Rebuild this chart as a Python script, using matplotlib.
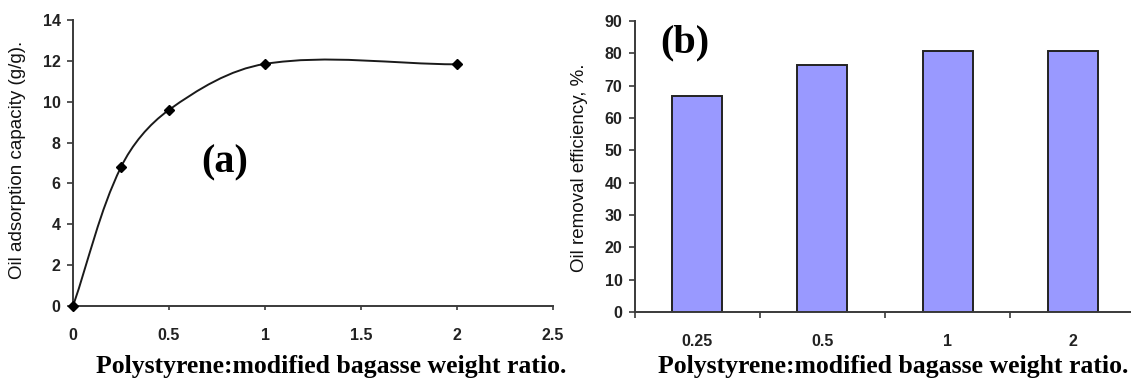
import matplotlib.pyplot as plt
import numpy as np
from matplotlib.path import Path
from matplotlib.patches import PathPatch

plt.rcParams.update({'font.family': 'Liberation Sans',
                     'figure.facecolor': 'white'})

# panel (a) data
ratio_a = [0, 0.25, 0.5, 1, 2]
capacity = [0, 6.8, 9.6, 11.85, 11.83]
xticks_a = [0, 0.5, 1, 1.5, 2, 2.5]
xticklabels_a = ['0', '0.5', '1', '1.5', '2', '2.5']
yticks_a = [0, 2, 4, 6, 8, 10, 12, 14]

# panel (b) data
ratio_b = ['0.25', '0.5', '1', '2']
efficiency = [66.9, 76.3, 80.6, 80.8]
yticks_b = [0, 10, 20, 30, 40, 50, 60, 70, 80, 90]

xlabel = 'Polystyrene:modified bagasse weight ratio.'
AX_C = '#3a3a3a'
tick_fs = 11.5
W, H = 1131, 380

fig = plt.figure(figsize=(W / 100, H / 100), dpi=100)

def px(x0, y0, x1, y1):
    # pixel box -> figure fraction [left, bottom, width, height]
    return [x0 / W, 1 - y1 / H, (x1 - x0) / W, (y1 - y0) / H]

def style(ax):
    for s in ['top', 'right']:
        ax.spines[s].set_visible(False)
    for s in ['left', 'bottom']:
        ax.spines[s].set_color(AX_C)
        ax.spines[s].set_linewidth(1.4)
    ax.tick_params(axis='y', direction='out', length=4, width=1.2, color=AX_C,
                   pad=5, labelsize=tick_fs)
    ax.tick_params(axis='x', direction='out', length=3, width=1.2, color=AX_C,
                   pad=13, labelsize=tick_fs)
    for lab in ax.get_xticklabels() + ax.get_yticklabels():
        lab.set_fontweight('bold')
        lab.set_color('#222222')

# ---- (a) smoothed line (bezier through the points, computed in screen-like units)
ax1 = fig.add_axes(px(73, 20, 553, 306))
ax1.set_xlim(0, 2.5)
ax1.set_ylim(0, 14)
sx, sy = 480 / 2.5, 286 / 14
pts = np.column_stack([ratio_a, capacity]).astype(float) * [sx, sy]
n = len(pts)
tang = []
for i in range(n):
    d = pts[min(i + 1, n - 1)] - pts[max(i - 1, 0)]
    tang.append(d / np.hypot(*d))
verts = [pts[0]]
codes = [Path.MOVETO]
for i in range(n - 1):
    arm = np.hypot(*(pts[i + 1] - pts[i])) / 3
    verts += [pts[i] + tang[i] * arm, pts[i + 1] - tang[i + 1] * arm, pts[i + 1]]
    codes += [Path.CURVE4] * 3
verts = np.array(verts) / [sx, sy]
ax1.add_patch(PathPatch(Path(verts, codes), fc='none', ec='#1a1a1a', lw=1.4,
                        transform=ax1.transData, clip_on=False))
ax1.plot(ratio_a, capacity, ls='none', marker='D', ms=5.5, color='black',
         clip_on=False, zorder=5)
ax1.set_xticks(xticks_a)
ax1.set_xticklabels(xticklabels_a)
ax1.set_yticks(yticks_a)
style(ax1)
ax1.text(0.317, 0.50, '(a)', transform=ax1.transAxes, ha='center', va='center',
         family='Liberation Serif', fontweight='bold', fontsize=29)

# ---- (b) bars
ax2 = fig.add_axes(px(635, 21, 1135, 312))
xb = np.arange(len(ratio_b))
ax2.bar(xb, efficiency, width=0.4, color='#9999FF', edgecolor='#222222', lw=1.4)
ax2.set_xlim(-0.5, len(ratio_b) - 0.5)
ax2.set_ylim(0, 90)
ax2.set_yticks(yticks_b)
ax2.set_xticks(xb)
ax2.set_xticklabels(ratio_b)
ax2.set_xticks(np.arange(len(ratio_b) + 1) - 0.5, minor=True)
style(ax2)
ax2.tick_params(axis='x', which='major', length=0, pad=16)
ax2.tick_params(axis='x', which='minor', direction='out', length=4, width=1.2,
                color=AX_C)
ax2.text(0.10, 0.925, '(b)', transform=ax2.transAxes, ha='center', va='center',
         family='Liberation Serif', fontweight='bold', fontsize=29)

# y labels
fig.text(18 / W, 1 - 160 / H, 'Oil adsorption capacity (g/g).', rotation=90,
         ha='center', va='center', fontsize=13.5, color='#111111')
fig.text(580 / W, 1 - 168 / H, 'Oil removal efficiency, %.', rotation=90,
         ha='center', va='center', fontsize=13.5, color='#111111')

# x labels
fig.text(331 / W, 1 - 367 / H, xlabel, ha='center', va='center',
         family='Liberation Serif', fontweight='bold', fontsize=18.5)
fig.text(893 / W, 1 - 367 / H, xlabel, ha='center', va='center',
         family='Liberation Serif', fontweight='bold', fontsize=18.5)

fig.savefig('out.png', dpi=100)
